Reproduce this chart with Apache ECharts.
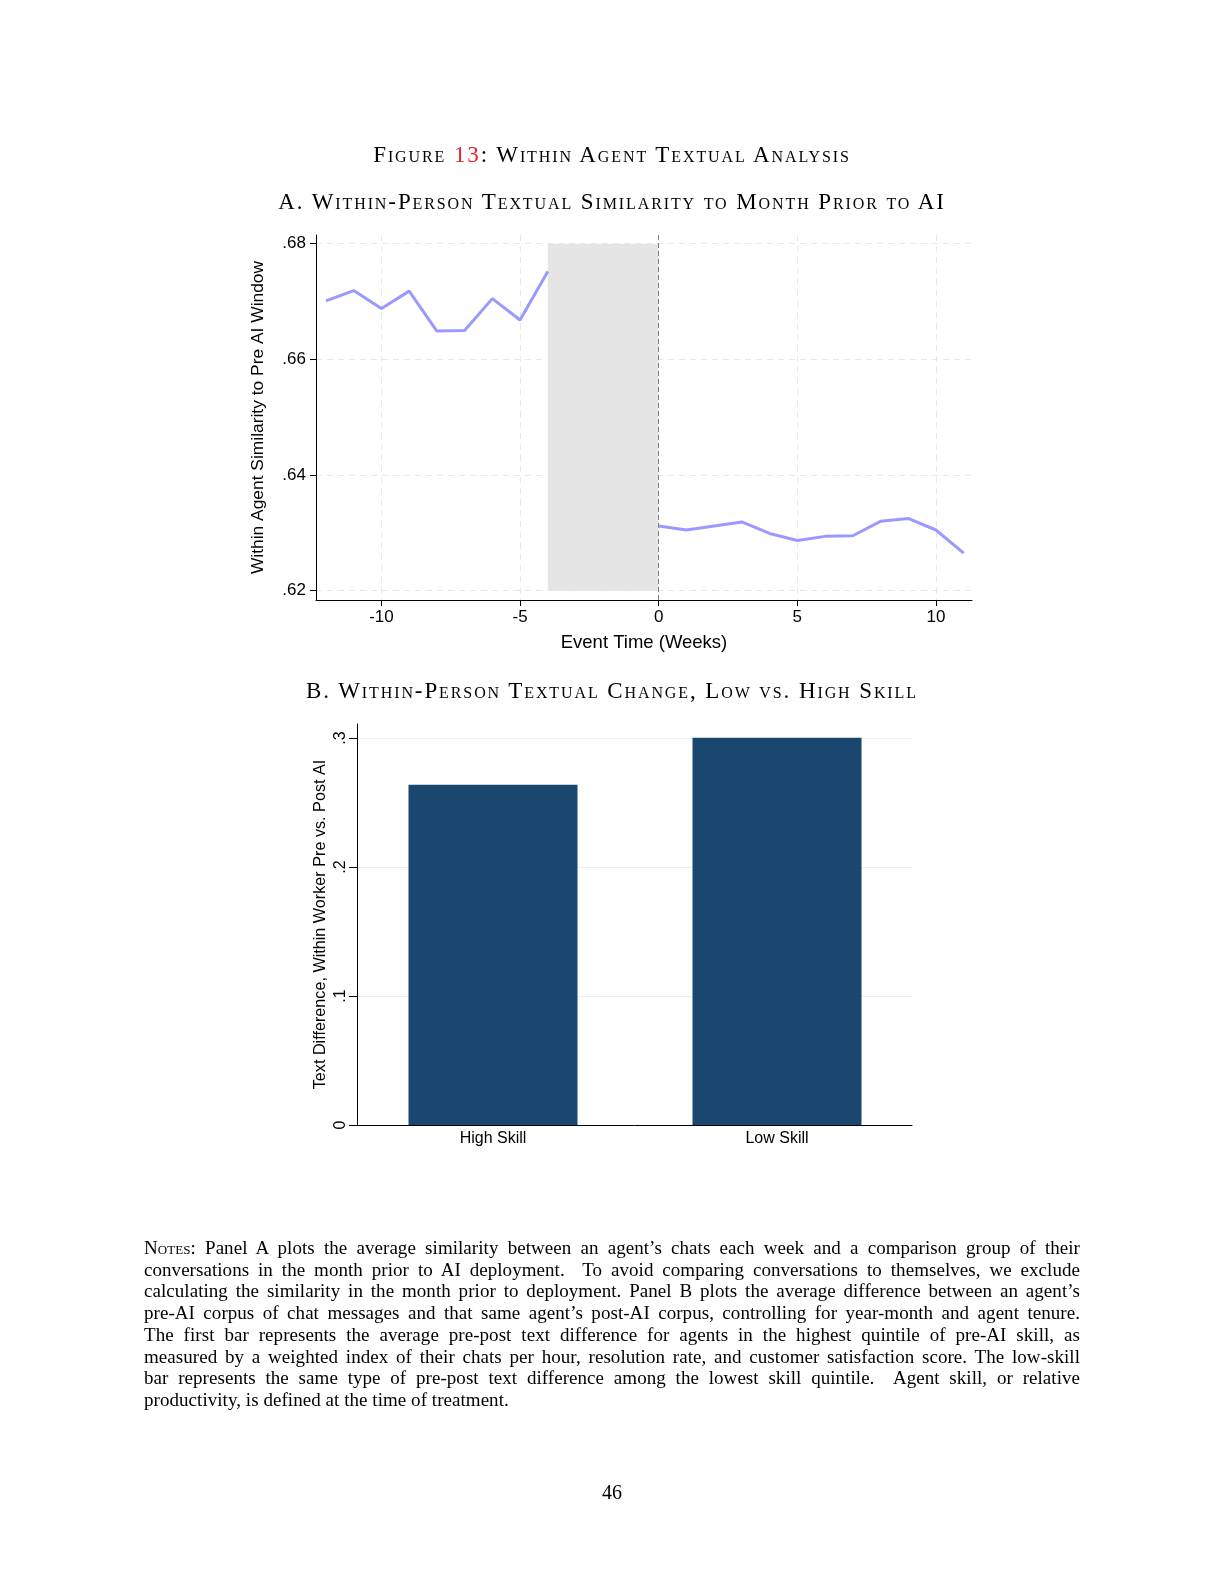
<!DOCTYPE html>
<html>
<head>
<meta charset="utf-8">
<script src="https://cdn.jsdelivr.net/npm/echarts@6/dist/echarts.min.js"></script>
<style>
  body { margin: 0; background: #fff; }
  #page { position: relative; width: 1224px; height: 1584px; background: #fff; }
  #chart { position: absolute; left: 0; top: 0; width: 1224px; height: 1584px; }
  .ttl { position: absolute; left: 0; width: 1224px; text-align: center; font-family: 'Liberation Serif', serif; font-variant: small-caps; color: #000; line-height: 30px; font-size: 23px; letter-spacing: 1.9px; }
  .red { color: #e8212b; }
  #notes { position: absolute; left: 144px; top: 1237px; width: 936px; font-family: 'Liberation Serif', serif; font-size: 19px; letter-spacing: 0.05px; line-height: 21.7px; color: #000; }
  #notes div { text-align: justify; text-align-last: justify; }
  #notes div.last { text-align-last: left; }
  .sc { font-variant: small-caps; }
  #pnum { position: absolute; left: 0; width: 1224px; top: 1477px; text-align: center; font-family: 'Liberation Serif', serif; font-size: 20px; line-height: 30px; }
</style>
</head>
<body>
<div id="page">
  <div id="chart"></div>
  <div class="ttl" style="top:140px;">Figure <span class="red">13</span>: Within Agent Textual Analysis</div>
  <div class="ttl" style="top:187px;">A. Within-Person Textual Similarity to Month Prior to AI</div>
  <div class="ttl" style="top:676px;">B. Within-Person Textual Change, Low vs. High Skill</div>
  <div id="notes">
    <div><span class="sc">Notes</span>: Panel A plots the average similarity between an agent’s chats each week and a comparison group of their</div>
    <div>conversations in the month prior to AI deployment.&nbsp; To avoid comparing conversations to themselves, we exclude</div>
    <div>calculating the similarity in the month prior to deployment. Panel B plots the average difference between an agent’s</div>
    <div>pre-AI corpus of chat messages and that same agent’s post-AI corpus, controlling for year-month and agent tenure.</div>
    <div>The first bar represents the average pre-post text difference for agents in the highest quintile of pre-AI skill, as</div>
    <div>measured by a weighted index of their chats per hour, resolution rate, and customer satisfaction score. The low-skill</div>
    <div>bar represents the same type of pre-post text difference among the lowest skill quintile.&nbsp; Agent skill, or relative</div>
    <div class="last">productivity, is defined at the time of treatment.</div>
  </div>
  <div id="pnum">46</div>
</div>
<script>
// Panel A: weekly within-agent similarity
const weeksPre = [-12, -11, -10, -9, -8, -7, -6, -5, -4]
const simPre = [0.6701, 0.6719, 0.6688, 0.6718, 0.6649, 0.6650, 0.6705, 0.6668, 0.6752]
const weeksPost = [0, 1, 2, 3, 4, 5, 6, 7, 8, 9, 10, 11]
const simPost = [0.6312, 0.6305, 0.6312, 0.6319, 0.6299, 0.6287, 0.6294, 0.6295, 0.6320, 0.6325, 0.6305, 0.6265]
const xTicksA = [-10, -5, 0, 5, 10]
const yTicksA = [0.62, 0.64, 0.66, 0.68]
const excludedWindow = [-4, 0]

// Panel B: pre vs post text difference by skill
const skillGroups = ['High Skill', 'Low Skill']
const textDiff = [0.2638, 0.3003]
const yTicksB = [0, 0.1, 0.2, 0.3]

const SANS = "'Liberation Sans', Arial, sans-serif"
const trimZero = v => {
  let s = String(Math.round(v * 1000) / 1000)
  return s.replace(/^0\./, '.').replace(/^-0\./, '-.')
}

const chart = echarts.init(document.getElementById('chart'), null, { renderer: 'canvas' })

const yMaxB = 0.3109

const option = {
  animation: false,
  backgroundColor: 'transparent',
  grid: [
    { left: 316, top: 235, width: 656, height: 365 },
    { left: 357, top: 724, width: 555, height: 401 },
    // bars sit a little wider apart than the axis frame
    { left: 351, top: 724, width: 568, height: 401 }
  ],
  xAxis: [{
    gridIndex: 0,
    type: 'value',
    min: -12.36,
    max: 11.3,
    name: 'Event Time (Weeks)',
    nameLocation: 'middle',
    nameGap: 33,
    nameTextStyle: { fontFamily: SANS, fontSize: 18.5, color: '#000' },
    axisLine: { onZero: false, lineStyle: { color: '#000', width: 1 } },
    axisTick: { customValues: xTicksA, length: 6, lineStyle: { color: '#000' } },
    axisLabel: { customValues: xTicksA, fontFamily: SANS, fontSize: 17, color: '#000', margin: 9 },
    splitLine: { show: true, lineStyle: { color: '#e8e8e8', type: [6, 5], width: 1 } }
  }, {
    gridIndex: 1,
    type: 'category',
    data: skillGroups,
    axisLine: { lineStyle: { color: '#000', width: 1 } },
    axisTick: { show: false },
    axisLabel: { show: false }
  }, {
    gridIndex: 2,
    type: 'category',
    data: skillGroups,
    axisLine: { show: false },
    axisTick: { show: false },
    axisLabel: { fontFamily: SANS, fontSize: 16, color: '#000', margin: 6 }
  }],
  yAxis: [{
    gridIndex: 0,
    type: 'value',
    min: 0.6184,
    max: 0.6815,
    name: 'Within Agent Similarity to Pre AI Window',
    nameLocation: 'middle',
    nameRotate: 90,
    nameGap: 49,
    nameTextStyle: { fontFamily: SANS, fontSize: 17.4, color: '#000' },
    axisLine: { show: true, onZero: false, lineStyle: { color: '#000', width: 1 } },
    axisTick: { show: true, customValues: yTicksA, length: 6, lineStyle: { color: '#000' } },
    axisLabel: { customValues: yTicksA, fontFamily: SANS, fontSize: 17, color: '#000', margin: 10, formatter: trimZero },
    splitLine: { show: true, lineStyle: { color: '#e8e8e8', type: [6, 5], width: 1 } }
  }, {
    gridIndex: 1,
    type: 'value',
    min: 0,
    max: yMaxB,
    name: 'Text Difference, Within Worker Pre vs. Post AI',
    nameLocation: 'middle',
    nameRotate: 90,
    nameGap: 28,
    nameTextStyle: { fontFamily: SANS, fontSize: 16.2, color: '#000' },
    axisLine: { show: true, onZero: false, lineStyle: { color: '#000', width: 1 } },
    axisTick: { show: true, customValues: yTicksB, length: 8, lineStyle: { color: '#000' } },
    axisLabel: { customValues: yTicksB, rotate: 90, fontFamily: SANS, fontSize: 16, color: '#000', margin: 8, formatter: trimZero },
    splitLine: { show: true, lineStyle: { color: '#e9eff1', width: 1 } }
  }, {
    gridIndex: 2,
    type: 'value',
    min: 0,
    max: yMaxB,
    show: false
  }],
  series: [{
    name: 'pre',
    type: 'line',
    xAxisIndex: 0,
    yAxisIndex: 0,
    data: weeksPre.map((w, i) => [w, simPre[i]]),
    symbol: 'none',
    lineStyle: { color: '#9999ff', width: 3 },
    markArea: {
      silent: true,
      itemStyle: { color: '#e5e5e5' },
      data: [[{ xAxis: excludedWindow[0], yAxis: 0.62 }, { xAxis: excludedWindow[1], yAxis: 0.68 }]]
    },
    z: 3
  }, {
    name: 'post',
    type: 'line',
    xAxisIndex: 0,
    yAxisIndex: 0,
    data: weeksPost.map((w, i) => [w, simPost[i]]),
    symbol: 'none',
    lineStyle: { color: '#9999ff', width: 3 },
    markLine: {
      silent: true,
      symbol: 'none',
      label: { show: false },
      lineStyle: { color: '#808080', type: [5, 3], width: 1 },
      data: [{ xAxis: excludedWindow[1] }]
    },
    z: 3
  }, {
    name: 'diff',
    type: 'bar',
    xAxisIndex: 2,
    yAxisIndex: 2,
    data: textDiff,
    barWidth: 169,
    itemStyle: { color: '#1a476f' }
  }]
}

chart.setOption(option)
</script>
</body>
</html>
